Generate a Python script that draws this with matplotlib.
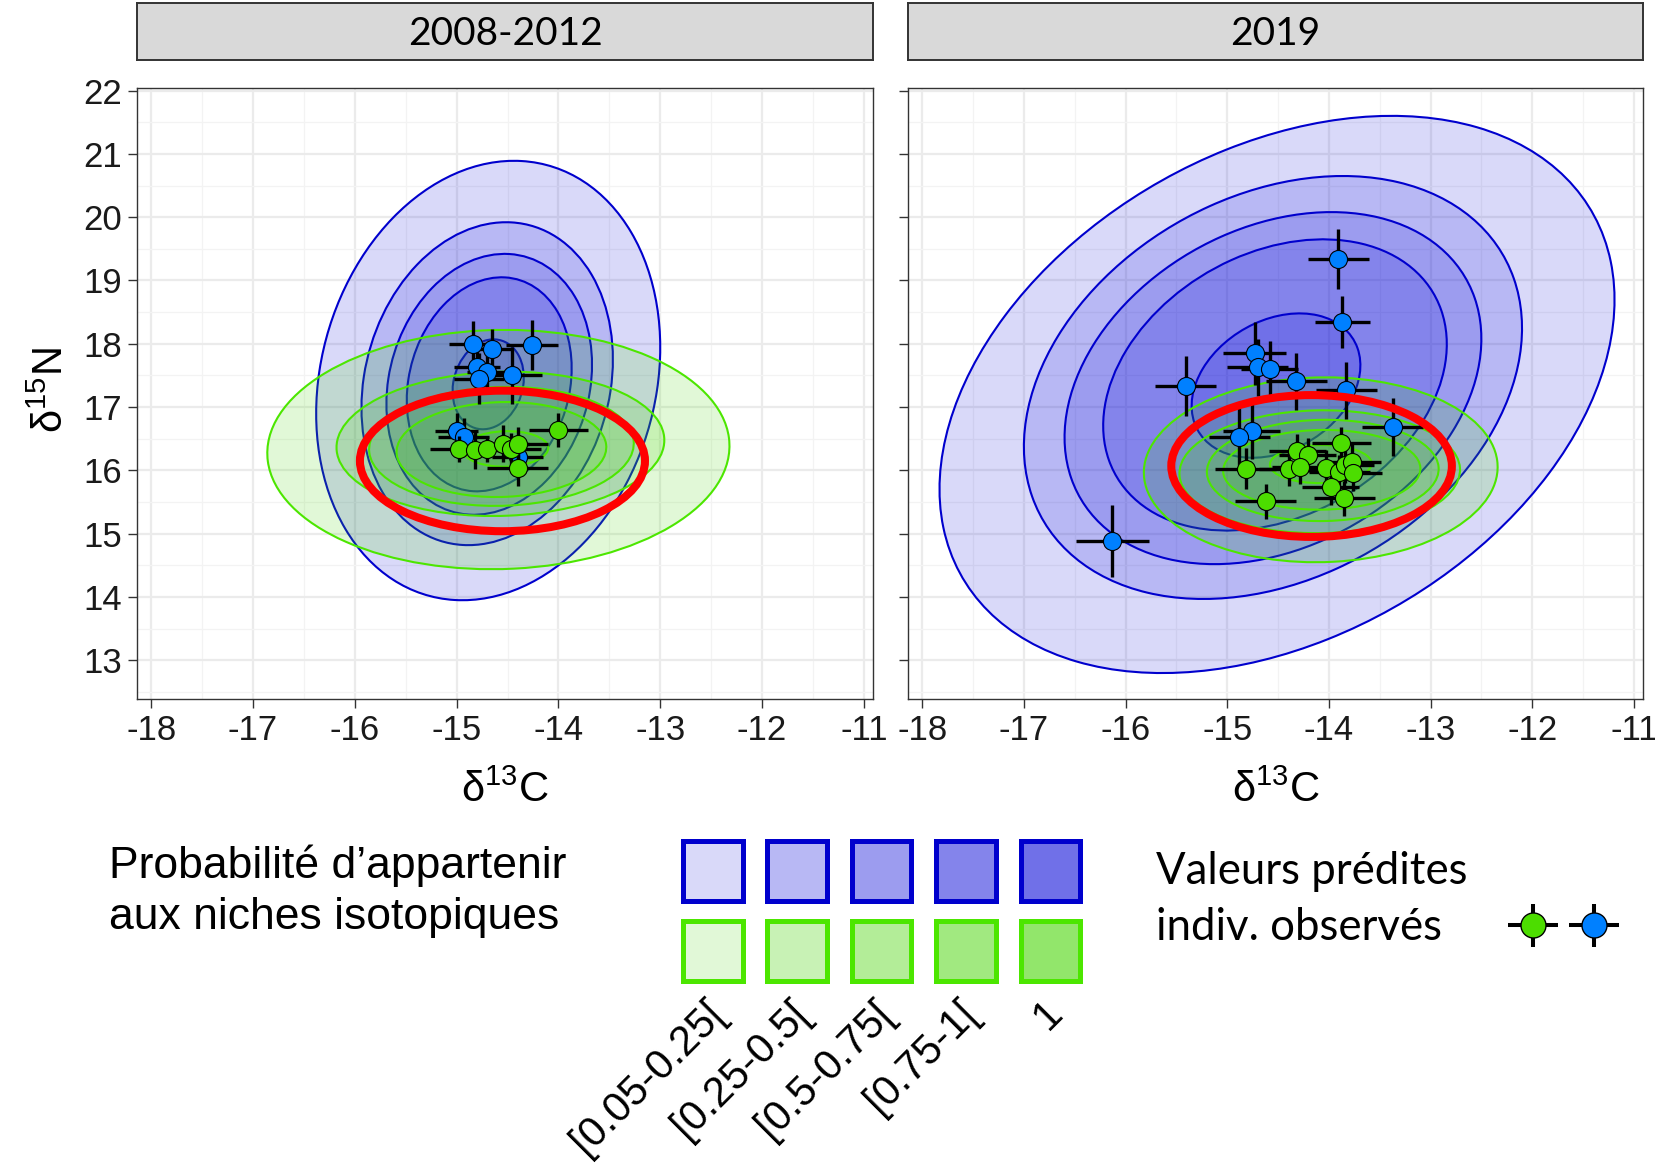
import numpy as np
import matplotlib
matplotlib.use('Agg')
import matplotlib.pyplot as plt
from matplotlib.patches import Ellipse, Rectangle
from matplotlib.colors import to_rgba

plt.rcParams['font.family'] = ['Liberation Sans', 'DejaVu Sans']
plt.rcParams['mathtext.fontset'] = 'custom'
plt.rcParams['mathtext.rm'] = 'Liberation Sans'
plt.rcParams['mathtext.it'] = 'Liberation Sans:italic'
plt.rcParams['axes.unicode_minus'] = False

periods = ['2008-2012', '2019']
levels = ['[0.05-0.25[', '[0.25-0.5[', '[0.5-0.75[', '[0.75-1[', '1']

# niche contours (outer -> inner): centre, half extent in x / y, correlation
blue_cx = [[-14.69, -14.70, -14.68, -14.68, -14.69], [-14.51, -14.55, -14.55, -14.53, -14.52]]
blue_cy = [[17.42, 17.37, 17.36, 17.36, 17.36], [17.20, 17.31, 17.30, 17.35, 17.34]]
blue_hx = [[1.69, 1.235, 1.01, 0.81, 0.35], [3.32, 2.45, 2.05, 1.69, 0.83]]
blue_hy = [[3.47, 2.55, 2.06, 1.69, 0.71], [4.40, 3.34, 2.78, 2.30, 1.14]]
blue_r = [[0.15, 0.15, 0.15, 0.15, 0.15], [0.34, 0.28, 0.28, 0.28, 0.28]]

green_cx = [[-14.59, -14.57, -14.56, -14.56, -14.52], [-14.08, -14.09, -14.06, -14.07, -14.08]]
green_cy = [[16.33, 16.42, 16.38, 16.33, 16.34], [16.01, 15.98, 16.00, 16.01, 16.10]]
green_hx = [[2.27, 1.61, 1.30, 1.03, 0.42], [1.74, 1.38, 1.14, 0.97, 0.50]]
green_hy = [[1.89, 1.14, 0.94, 0.75, 0.28], [1.46, 0.97, 0.80, 0.63, 0.30]]
green_r = [[0.03, 0.05, 0.05, 0.05, 0.05], [0.03, 0.03, 0.03, 0.03, 0.03]]

# red highlight ellipse per panel
red_cx = [-14.55, -14.17]
red_cy = [16.15, 16.07]
red_hx = [1.40, 1.38]
red_hy = [1.11, 1.12]

# predicted values of observed individuals
blue_x = [[-14.84, -14.65, -14.26, -14.80, -14.70, -14.46, -14.78, -15.00, -14.93, -14.40],
          [-13.91, -13.87, -14.73, -14.70, -14.58, -14.32, -15.41, -13.83, -14.76, -14.88, -13.37, -16.13]]
blue_y = [[18.00, 17.92, 17.98, 17.63, 17.56, 17.50, 17.45, 16.62, 16.53, 16.21],
          [19.34, 18.34, 17.85, 17.63, 17.60, 17.41, 17.33, 17.27, 16.63, 16.53, 16.69, 14.89]]
blue_xerr = [[0.24, 0.20, 0.26, 0.23, 0.20, 0.30, 0.25, 0.21, 0.25, 0.25],
             [0.30, 0.27, 0.31, 0.30, 0.28, 0.30, 0.30, 0.30, 0.28, 0.30, 0.30, 0.36]]
blue_yerr = [[0.36, 0.32, 0.40, 0.30, 0.30, 0.45, 0.40, 0.28, 0.30, 0.30],
             [0.48, 0.41, 0.50, 0.45, 0.45, 0.45, 0.47, 0.45, 0.45, 0.45, 0.46, 0.57]]

green_x = [[-14.98, -14.82, -14.70, -14.54, -14.47, -14.40, -14.40, -14.00],
           [-13.88, -14.31, -14.21, -14.82, -14.39, -14.28, -14.03, -13.90, -13.84, -13.77, -13.76, -13.98, -14.62, -13.85]]
green_y = [[16.34, 16.33, 16.34, 16.42, 16.34, 16.42, 16.04, 16.64],
           [16.43, 16.30, 16.24, 16.03, 16.03, 16.06, 16.04, 15.97, 16.08, 16.13, 15.96, 15.74, 15.51, 15.56]]
green_xerr = [[0.28, 0.25, 0.20, 0.25, 0.30, 0.30, 0.30, 0.29],
              [0.29, 0.28, 0.28, 0.30, 0.30, 0.28, 0.28, 0.30, 0.28, 0.28, 0.28, 0.28, 0.30, 0.30]]
green_yerr = [[0.20, 0.30, 0.20, 0.29, 0.25, 0.26, 0.28, 0.27],
              [0.25, 0.27, 0.27, 0.32, 0.28, 0.28, 0.28, 0.28, 0.28, 0.28, 0.28, 0.28, 0.28, 0.28]]

BLUE_FILL = to_rgba('#0000d8', 0.15)
BLUE_EDGE = '#0000cd'
GREEN_FILL = to_rgba('#44d800', 0.155)
GREEN_EDGE = '#4ce600'
PT_BLUE = '#0080ff'
PT_GREEN = '#4cdd00'


def niche(ax, cx, cy, hx, hy, r, fc, ec, lw=1.5, z=2):
    cov = np.array([[hx ** 2, r * hx * hy], [r * hx * hy, hy ** 2]])
    vals, vecs = np.linalg.eigh(cov)
    ang = np.degrees(np.arctan2(vecs[1, 1], vecs[0, 1]))
    e = Ellipse((cx, cy), 2 * np.sqrt(vals[1]), 2 * np.sqrt(vals[0]), angle=ang,
                facecolor=fc, edgecolor=ec, lw=lw, zorder=z)
    ax.add_patch(e)


def points(ax, x, y, xerr, yerr, color, z):
    ax.errorbar(x, y, xerr=xerr, yerr=yerr, fmt='none', ecolor='black', elinewidth=2.4,
                capsize=0, zorder=z)
    ax.plot(x, y, 'o', ms=13, mfc=color, mec='black', mew=0.8, zorder=z + 0.5)


W, H = 1655, 1164
fig = plt.figure(figsize=(W / 100, H / 100), dpi=100)

# overlay for the legend, in pixel units
lg = fig.add_axes([0, 0, 1, 1])
lg.set_xlim(0, W)
lg.set_ylim(H, 0)
lg.axis('off')

panel_left = [137, 908]
panel_w = [736, 735]
for p in range(2):
    ax = fig.add_axes([panel_left[p] / W, 1 - 699 / H, panel_w[p] / W, 611 / H])
    ax.set_xlim(-18.14, -10.91)
    ax.set_ylim(12.39, 22.04)
    ax.set_xticks(range(-18, -10))
    ax.set_xticks(np.arange(-17.5, -10.9, 1), minor=True)
    ax.set_yticks(range(13, 23))
    ax.set_yticks(np.arange(12.5, 22.0, 1), minor=True)
    ax.grid(which='major', color='#ebebeb', lw=1.6)
    ax.grid(which='minor', color='#f3f3f3', lw=0.9)
    ax.set_axisbelow(True)
    ax.tick_params(which='major', length=6.5, width=1.0, color='#333333', labelsize=25,
                   labelcolor='#1a1a1a', pad=4)
    ax.tick_params(which='minor', length=0)
    if p == 1:
        ax.set_yticklabels([])
    for s in ax.spines.values():
        s.set_color('#333333')
        s.set_linewidth(1.0)

    for k in range(5):
        niche(ax, blue_cx[p][k], blue_cy[p][k], blue_hx[p][k], blue_hy[p][k], blue_r[p][k],
              BLUE_FILL, BLUE_EDGE, z=2 + k * 0.01)
    for k in range(5):
        niche(ax, green_cx[p][k], green_cy[p][k], green_hx[p][k], green_hy[p][k], green_r[p][k],
              GREEN_FILL, GREEN_EDGE, z=3 + k * 0.01)

    points(ax, blue_x[p], blue_y[p], blue_xerr[p], blue_yerr[p], PT_BLUE, 4)
    points(ax, green_x[p], green_y[p], green_xerr[p], green_yerr[p], PT_GREEN, 5)

    ax.add_patch(Ellipse((red_cx[p], red_cy[p]), 2 * red_hx[p], 2 * red_hy[p],
                         facecolor='none', edgecolor='#ff0000', lw=5.8, zorder=7))

    # strip
    st = fig.add_axes([panel_left[p] / W, 1 - 60 / H, panel_w[p] / W, 57 / H])
    st.set_facecolor('#d9d9d9')
    st.set_xticks([])
    st.set_yticks([])
    for s in st.spines.values():
        s.set_color('#333333')
        s.set_linewidth(1.4)
    st.text(0.5, 0.45, periods[p], ha='center', va='center', fontsize=28,
            family=['Lato', 'DejaVu Sans'], transform=st.transAxes)

    fig.text((panel_left[p] + panel_w[p] / 2) / W, 1 - 791 / H, r'$\mathregular{\delta^{13}C}$',
             ha='center', va='center', fontsize=30)

fig.text(52 / W, 1 - 390.5 / H, r'$\mathregular{\delta^{15}N}$', rotation=90,
         ha='center', va='center', fontsize=30)

# legend: probability levels
lg.text(109, 866, 'Probabilité d\u2019appartenir', ha='left', va='center', fontsize=32)
lg.text(109, 918, 'aux niches isotopiques', ha='left', va='center', fontsize=32)
bw = 59.5
for i, lab in enumerate(levels):
    x0 = 683 + i * 84.4
    for row, (fc, ec) in enumerate([(BLUE_FILL, BLUE_EDGE), (GREEN_FILL, GREEN_EDGE)]):
        y0 = 841 + row * 80
        for k in range(i + 1):
            lg.add_patch(Rectangle((x0, y0), bw, bw, facecolor=fc, edgecolor='none'))
        lg.add_patch(Rectangle((x0, y0), bw, bw, facecolor='none', edgecolor=ec, lw=3.6))
    lg.text(x0 + bw / 2 + 6, 1007, lab, rotation=45, rotation_mode='anchor',
            ha='right', va='center', fontsize=30)

# legend: predicted values
lg.text(1156, 872, 'Valeurs prédites', ha='left', va='center', fontsize=31.5,
        family=['Lato', 'DejaVu Sans'])
lg.text(1156, 928, 'indiv. observés', ha='left', va='center', fontsize=31.5,
        family=['Lato', 'DejaVu Sans'])
for xc, col in [(1532.5, PT_GREEN), (1593.5, PT_BLUE)]:
    lg.errorbar([xc], [925], xerr=25, yerr=21.5, fmt='none', ecolor='black',
                elinewidth=2.9, capsize=0)
    lg.plot([xc], [925], 'o', ms=18, mfc=col, mec='black', mew=1.0)

fig.savefig('out.png', dpi=100)
